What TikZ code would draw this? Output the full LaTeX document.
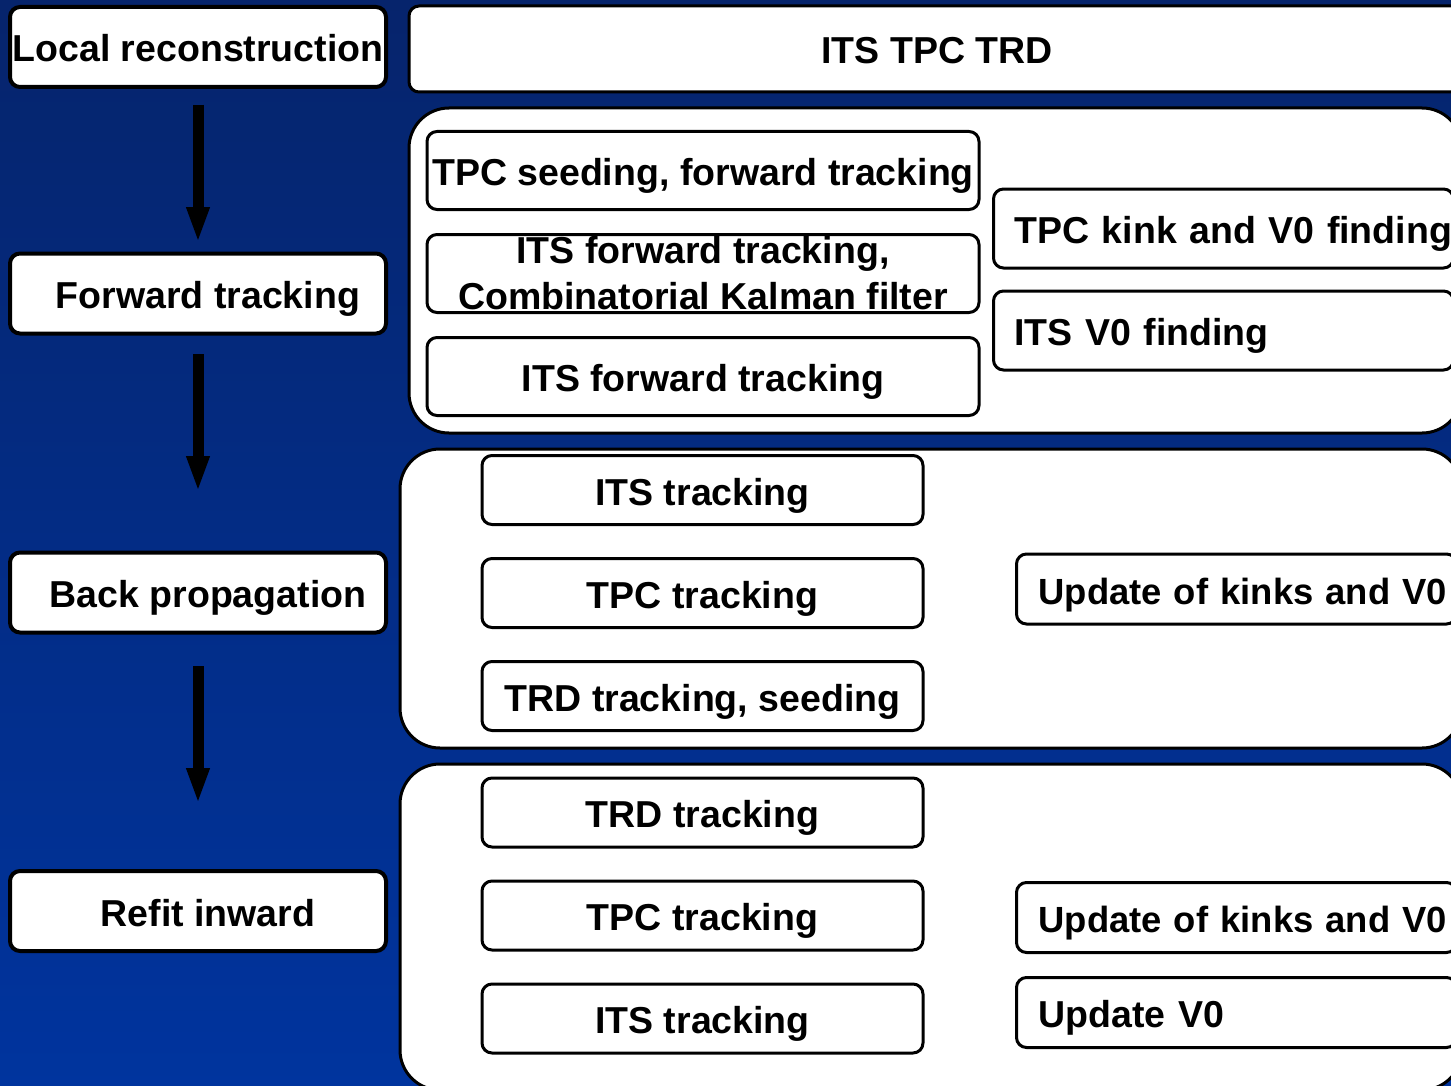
\documentclass[tikz,border=0pt]{standalone}
\usepackage{fontspec}
\setmainfont{Liberation Sans}
\usetikzlibrary{positioning, arrows.meta}
\definecolor{slidetop}{RGB}{6,36,108}
\definecolor{slidebottom}{RGB}{0,52,158}
\hfuzz=200pt

\begin{document}
\begin{tikzpicture}[x=0.5pt, y=-0.5pt,
	font=\fontsize{18.75}{23}\selectfont\bfseries,
	box/.style={draw, fill=white, line width=1.5pt, rounded corners=5pt, inner sep=0pt},
	task/.style={box, text height=17pt, text depth=2pt},
	stage/.style={task, line width=2pt, minimum width=188pt, minimum height=40pt},
	side/.style={task, anchor=west, align=left},
	group/.style={draw, fill=white, line width=1.5pt, rounded corners=20pt, inner sep=0pt},
	flow/.style={line width=5.5pt, -{Triangle[width=10.5pt, length=18pt]}},
]
	\shade[top color=slidetop, bottom color=slidebottom] (0,0) rectangle (1451,1086);
	\useasboundingbox (0,0) rectangle (1451,1086);
	\clip (0,0) rectangle (1451,1086);

	\node[stage] (local) at (198,47) {Local reconstruction};
	\node[stage] (fwd) at (198,293.5) {\hspace*{10pt}Forward tracking};
	\node[stage] (back) at (198,592.5) {\hspace*{10pt}Back propagation};
	\node[stage] (refit) at (198,911) {\hspace*{10pt}Refit inward};

	\draw[flow, shorten <=8pt, shorten >=4.25pt] (local) -- (fwd);
	\draw[flow, shorten <=9.25pt, shorten >=29.25pt] (fwd) -- (back);
	\draw[flow, shorten <=15.75pt, shorten >=32.5pt] (back) -- (refit);

	\node[task, minimum width=528pt, minimum height=43pt] (det) at (937,49) {ITS TPC TRD};

	\node[group, minimum width=526.5pt, minimum height=162.5pt] (fwdgroup) at (935.5,270.5) {};
	\node[group, minimum width=531pt, minimum height=149.5pt] (backgroup) at (931,598.5) {};
	\node[group, minimum width=531pt, minimum height=163pt] (refitgroup) at (931,927) {};

	\node[task, minimum width=276pt, minimum height=39pt] (tpcseed) at (703,170.5) {TPC seeding, forward tracking};
	\node[box, minimum width=276pt, minimum height=39pt, align=center] (itsckf) [below=11pt of tpcseed] {ITS forward tracking,\\Combinatorial Kalman filter};
	\node[task, minimum width=276pt, minimum height=39pt] (itsfwd) [below=11pt of itsckf] {ITS forward tracking};

	\node[side, minimum width=230pt, minimum height=39.5pt, text width=209pt, inner xsep=10.5pt] (kinkfind) at (992,228.5) {\mbox{TPC kink and V0 finding}};
	\node[side, minimum width=230pt, minimum height=39.5pt, text width=209pt, inner xsep=10.5pt] (itsvzero) [below=10pt of kinkfind] {ITS V0 finding};

	\node[task, minimum width=220.5pt, minimum height=34.5pt] (itsback) at (702.5,490) {ITS tracking};
	\node[task, minimum width=220.5pt, minimum height=34.5pt] (tpcback) [below=15.5pt of itsback] {TPC tracking};
	\node[task, minimum width=220.5pt, minimum height=34.5pt] (trdback) [below=15.5pt of tpcback] {TRD tracking, seeding};

	\node[side, minimum width=220pt, minimum height=35pt, text width=198pt, inner xsep=11pt, font=\fontsize{18.2}{23}\selectfont\bfseries] (updback) at (1015,589) {\mbox{Update of kinks and V0}};

	\node[task, minimum width=220.5pt, minimum height=34.5pt] (trdrefit) at (702.5,812.5) {TRD tracking};
	\node[task, minimum width=220.5pt, minimum height=34.5pt] (tpcrefit) [below=15.5pt of trdrefit] {TPC tracking};
	\node[task, minimum width=220.5pt, minimum height=34.5pt] (itsrefit) [below=15.5pt of tpcrefit] {ITS tracking};

	\node[side, minimum width=220pt, minimum height=35pt, text width=198pt, inner xsep=11pt, font=\fontsize{18.2}{23}\selectfont\bfseries] (updrefit) at (1015,917.5) {\mbox{Update of kinks and V0}};
	\node[side, minimum width=220pt, minimum height=35pt, text width=198pt, inner xsep=11pt] (updvzero) [below=11pt of updrefit] {Update V0};
\end{tikzpicture}
\end{document}
